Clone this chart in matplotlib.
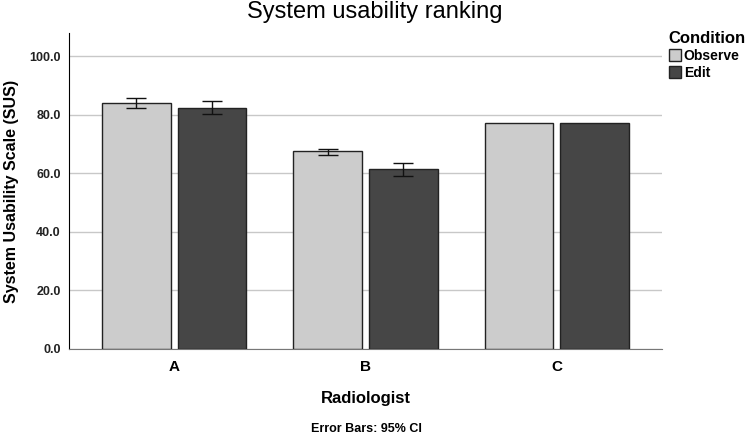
import numpy as np
import matplotlib.pyplot as plt

plt.rcParams['font.family'] = ['Liberation Sans Narrow', 'Liberation Sans', 'DejaVu Sans']

# data
radiologists = ['A', 'B', 'C']
conditions = ['Observe', 'Edit']
observe_mean = [84.1, 67.5, 77.1]
edit_mean = [82.3, 61.6, 77.1]
observe_lo = [82.5, 66.3, np.nan]
observe_hi = [85.8, 68.5, np.nan]
edit_lo = [80.2, 59.2, np.nan]
edit_hi = [84.9, 63.5, np.nan]

colors = ['#cccccc', '#464646']

fig = plt.figure(figsize=(7.5, 4.37), dpi=100)
ax = fig.add_axes([0.092, 0.2014, 0.7907, 0.7231])

x = np.arange(len(radiologists))
width = 0.36
offset = 0.1975

series = [
    (observe_mean, observe_lo, observe_hi),
    (edit_mean, edit_lo, edit_hi),
]
for i, (means, lo, hi) in enumerate(series):
    xs = x + (offset if i else -offset)
    means = np.array(means)
    ax.bar(xs, means, width, color=colors[i], edgecolor='#222222',
           linewidth=1.0, label=conditions[i], zorder=3)
    err = np.vstack([means - np.array(lo), np.array(hi) - means])
    ok = ~np.isnan(err[0])
    ax.errorbar(xs[ok], means[ok], yerr=err[:, ok], fmt='none', ecolor='#111111',
                elinewidth=1.0, capsize=7.2, capthick=1.0, zorder=4)

ax.set_xlim(-0.55, 2.55)
ax.set_ylim(0, 108)
ax.set_yticks(np.arange(0, 101, 20))
ax.set_yticklabels([f'{v:.1f}' for v in np.arange(0, 101, 20)],
                   fontsize=9, fontweight='bold', color='#222222')
ax.set_xticks(x)
ax.set_xticklabels(radiologists, fontsize=11, fontweight='bold')
ax.tick_params(axis='both', length=0)
ax.tick_params(axis='y', pad=6)
ax.tick_params(axis='x', pad=8)

ax.grid(axis='y', color='#c8c8c8', linewidth=1.0, zorder=0)
ax.spines['top'].set_visible(False)
ax.spines['right'].set_visible(False)
ax.spines['left'].set_color('black')
ax.spines['bottom'].set_color('#777777')

ax.set_ylabel('System Usability Scale (SUS)', fontsize=11.5, fontweight='bold',
              family=['Liberation Sans', 'DejaVu Sans'], labelpad=7)
ax.set_xlabel('Radiologist', fontsize=12, fontweight='bold',
              family=['Liberation Sans', 'DejaVu Sans'], labelpad=12)

fig.text(0.5, 0.972, 'System usability ranking', ha='center', va='center', fontsize=17)
fig.text(0.488, 0.018, 'Error Bars: 95% CI', ha='center', va='center',
         fontsize=9, fontweight='bold')

leg = ax.legend(loc='upper left', bbox_to_anchor=(0.99, 1.045), frameon=False,
                title='Condition', prop={'weight': 'bold', 'size': 10},
                handlelength=0.9, handleheight=0.9, handletextpad=0.2,
                labelspacing=0.2)
leg.get_title().set_fontweight('bold')
leg.get_title().set_fontsize(12)
leg.get_title().set_family(['Liberation Sans', 'DejaVu Sans'])
leg._legend_box.align = 'left'

fig.savefig('out.png', dpi=100)
